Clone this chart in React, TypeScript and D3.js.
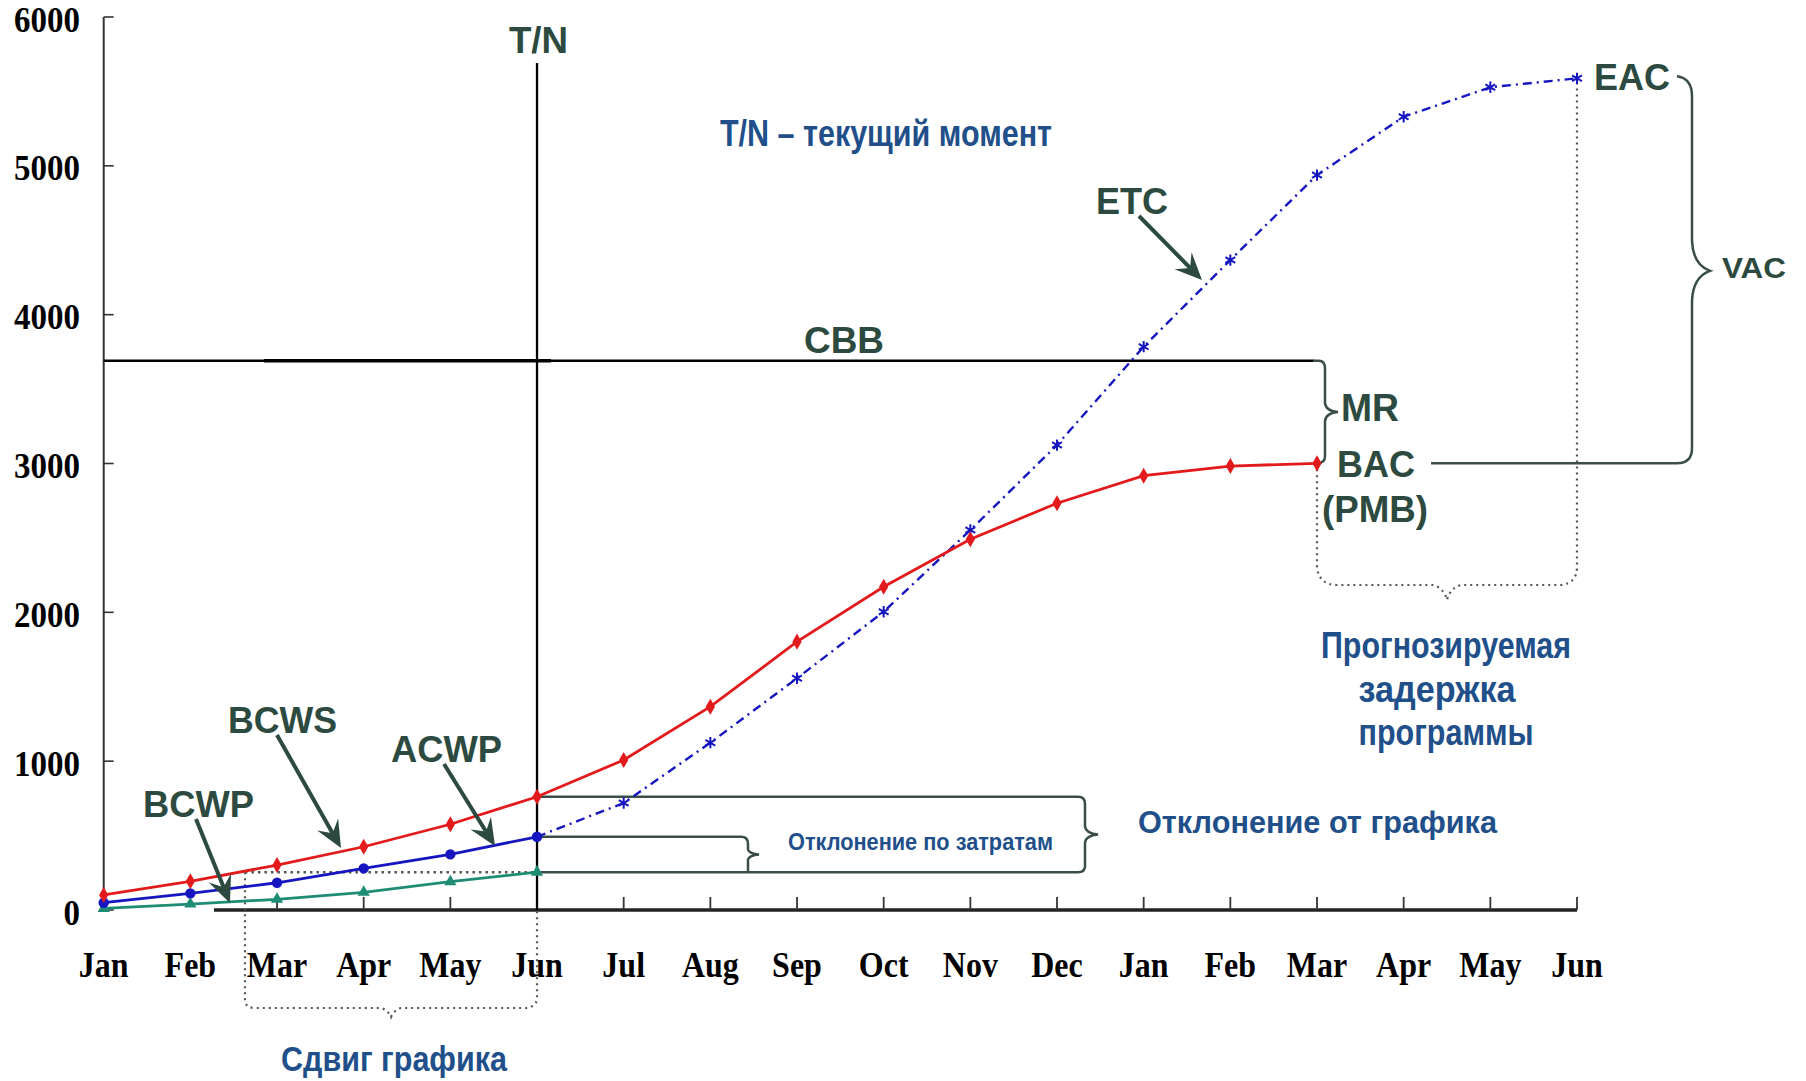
import React from 'react';
import * as d3 from 'd3';

// ---------- data ----------
const months = ['Jan','Feb','Mar','Apr','May','Jun','Jul','Aug','Sep','Oct','Nov','Dec','Jan','Feb','Mar','Apr','May','Jun'];
const yTicks = [0, 1000, 2000, 3000, 4000, 5000, 6000];
// BCWS – planned value (Jan .. Mar of next year)
const bcws = [101, 193, 302, 425, 576, 761, 1008, 1366, 1803, 2172, 2491, 2733, 2918, 2983, 3001];
// ACWP – actual cost (Jan .. Jun)
const acwp = [49, 112, 183, 280, 374, 492];
// ETC – forecast (Jun .. Jun of next year)
const etcStart = 5;
const etc = [492, 719, 1124, 1557, 2004, 2553, 3124, 3785, 4367, 4938, 5330, 5528, 5588];
// BCWP – earned value (Jan .. Jun)
const bcwp = [11, 40, 72, 119, 190, 254];
const CBB = 3690;
const statusIdx = 5;          // T/N – Jun
const bacIdx = 14;            // end of BCWS
const shiftStartMonth = 1.63; // where BCWS equals current BCWP

// ---------- styles ----------
const RED = '#e31a1c';
const BLUE = '#1616c0';
const GREEN = '#1e8c74';
const DG = '#2c4a40';
const BRACE = '#3a4d46';
const TXT_BLUE = '#214f8a';
const SANS = '"Liberation Sans", Arial, sans-serif';
const SERIF = '"Liberation Serif", "Times New Roman", serif';

const x = d3.scaleLinear().domain([0, 17]).range([103.7, 1577]);
const y = d3.scaleLinear().domain([0, 6000]).range([910, 17]);

type P = [number, number];
const line = d3.line<P>().x(d => x(d[0])).y(d => y(d[1]));

const Label = ({ px, py, text, size, fill, family = SANS, anchor = 'start', len, sy = 1 }: any) => (
  <text
    transform={`translate(${px},${py}) scale(1,${sy})`}
    fontFamily={family}
    fontWeight="bold"
    fontSize={size}
    fill={fill}
    textAnchor={anchor}
    textLength={len}
    lengthAdjust={len ? 'spacingAndGlyphs' : undefined}
  >
    {text}
  </text>
);

function Arrow({ x1, y1, x2, y2 }: any) {
  const dx = x2 - x1, dy = y2 - y1;
  const L = Math.hypot(dx, dy);
  const ux = dx / L, uy = dy / L;
  const nx = -uy, ny = ux;
  const HL = 27, HW = 12, NL = 17;
  const pts: P[] = [
    [x2, y2],
    [x2 - HL * ux + HW * nx, y2 - HL * uy + HW * ny],
    [x2 - NL * ux, y2 - NL * uy],
    [x2 - HL * ux - HW * nx, y2 - HL * uy - HW * ny],
  ];
  return (
    <g>
      <line x1={x1} y1={y1} x2={x2 - NL * ux} y2={y2 - NL * uy} stroke={DG} strokeWidth={4} />
      <polygon points={pts.map(p => p.join(',')).join(' ')} fill={DG} />
    </g>
  );
}

export default function App() {
  const bcwsPts: P[] = bcws.map((v, i) => [i, v]);
  const acwpPts: P[] = acwp.map((v, i) => [i, v]);
  const etcPts: P[] = etc.map((v, i) => [i + etcStart, v]);
  const bcwpPts: P[] = bcwp.map((v, i) => [i, v]);

  const diamond = d3.symbol().type(d3.symbolDiamond).size(75)()!;
  const tri = d3.symbol().type(d3.symbolTriangle).size(65)()!;
  const star = d3.symbol().type(d3.symbolAsterisk).size(90)()!;

  const xs = x(statusIdx);
  const yTop = y(bcws[statusIdx]);
  const yA = y(acwp[statusIdx]);
  const yBot = y(bcwp[statusIdx]);

  // MR brace
  const xb = x(bacIdx);
  const yc = y(CBB);
  const yb = y(bcws[bacIdx]);
  const ym = (yc + yb) / 2;
  const mrPath = `M${xb - 4},${yc} L${xb + 2},${yc} Q${xb + 8},${yc} ${xb + 8},${yc + 8} L${xb + 8},${ym - 9} Q${xb + 9},${ym - 1} ${xb + 21},${ym} Q${xb + 9},${ym + 1} ${xb + 8},${ym + 9} L${xb + 8},${yb - 7} Q${xb + 8},${yb} ${xb},${yb}`;

  // VAC brace
  const yEac = y(etc[etc.length - 1]);
  const vm = (yEac + yb) / 2;
  const vx = 1692;
  const vacPath = `M1677,${yEac - 2} Q${vx},${yEac} ${vx},${yEac + 18} L${vx},${vm - 30} Q${vx + 1},${vm - 6} ${vx + 18},${vm} Q${vx + 1},${vm + 6} ${vx},${vm + 30} L${vx},${yb - 15} Q${vx},${yb} ${vx - 15},${yb} L1431,${yb}`;

  // forecast delay dotted brace
  const xe = x(17);
  const fm = (xb + xe) / 2;
  const delayPath = `M${xb},${yb} L${xb},567 Q${xb + 2},585 ${xb + 20},585 L${fm - 14},585 Q${fm - 3},588 ${fm},600 Q${fm + 3},588 ${fm + 14},585 L${xe - 16},585 Q${xe},583 ${xe},567 L${xe},${yEac}`;

  // schedule shift dotted brace
  const xl = x(shiftStartMonth);
  const sm = (xl + xs) / 2;
  const shiftPath = `M${xl},${yBot} L${xl},1002 Q${xl + 2},1008 ${xl + 10},1008 L${sm - 10},1008 Q${sm - 3},1010 ${sm},1017 Q${sm + 3},1010 ${sm + 10},1008 L${xs - 10},1008 Q${xs},1006 ${xs},998 L${xs},910`;

  // schedule variance brace
  const sx = 1085;
  const smid = (yTop + yBot) / 2;
  const svPath = `M${xs},${yTop} L${sx - 7},${yTop} Q${sx},${yTop} ${sx},${yTop + 7} L${sx},${smid - 8} Q${sx + 1},${smid - 1} ${sx + 13},${smid} Q${sx + 1},${smid + 1} ${sx},${smid + 8} L${sx},${yBot - 6} Q${sx},${yBot} ${sx - 7},${yBot} L${xs},${yBot}`;
  // cost variance brace
  const cx = 748;
  const cmid = (yA + yBot) / 2;
  const cvPath = `M${xs},${yA} L${cx - 7},${yA} Q${cx},${yA} ${cx},${yA + 7} L${cx},${cmid - 5} Q${cx + 1},${cmid - 1} ${cx + 11},${cmid} Q${cx + 1},${cmid + 1} ${cx},${cmid + 5} L${cx},${yBot}`;

  return (
    <svg width={1806} height={1081} style={{ position: 'absolute', left: 0, top: 0, background: '#fff' }}>
      {/* y axis */}
      <line x1={x(0)} x2={x(0)} y1={y(6000)} y2={y(0)} stroke="#333" strokeWidth={2} />
      {yTicks.map(t => (
        <g key={t}>
          <line x1={x(0)} x2={x(0) + 10} y1={y(t)} y2={y(t)} stroke="#333" strokeWidth={1.6} />
          <Label px={80} py={y(t) + 14.5} text={String(t)} size={33} fill="#000" family={SERIF} anchor="end" sy={1.1} />
        </g>
      ))}
      {/* x axis */}
      <line x1={214} x2={x(17)} y1={y(0)} y2={y(0)} stroke="#222" strokeWidth={3.5} />
      {months.map((m, i) => (
        <g key={i}>
          {i >= 2 && <line x1={x(i)} x2={x(i)} y1={y(0) - 13} y2={y(0)} stroke="#333" strokeWidth={1.8} />}
          <Label px={x(i)} py={977} text={m} size={32} fill="#000" family={SERIF} anchor="middle" sy={1.12} />
        </g>
      ))}

      {/* CBB */}
      <line x1={x(0)} x2={xb - 3} y1={yc} y2={yc} stroke="#000" strokeWidth={2.5} />
      <line x1={264} x2={551} y1={yc} y2={yc} stroke="#000" strokeWidth={3.5} />
      {/* T/N */}
      <line x1={xs} x2={xs} y1={63} y2={y(0)} stroke="#000" strokeWidth={2.3} />

      {/* braces */}
      <path d={mrPath} fill="none" stroke={BRACE} strokeWidth={2.5} />
      <path d={vacPath} fill="none" stroke={BRACE} strokeWidth={2.5} />
      <path d={svPath} fill="none" stroke={BRACE} strokeWidth={2.5} />
      <path d={cvPath} fill="none" stroke={BRACE} strokeWidth={2.5} />
      <path d={delayPath} fill="none" stroke="#555" strokeWidth={2.2} strokeDasharray="2 4" />
      <path d={shiftPath} fill="none" stroke="#555" strokeWidth={2.2} strokeDasharray="2 4" />
      <line x1={xl} x2={xs} y1={yBot} y2={yBot} stroke="#555" strokeWidth={2.6} strokeDasharray="2.5 4" />

      {/* series */}
      <path d={line(etcPts)!} fill="none" stroke={BLUE} strokeWidth={2.4} strokeDasharray="9 5 2 5" />
      <path d={line(bcwpPts)!} fill="none" stroke={GREEN} strokeWidth={2.8} />
      <path d={line(acwpPts)!} fill="none" stroke={BLUE} strokeWidth={2.8} />
      <path d={line(bcwsPts)!} fill="none" stroke={RED} strokeWidth={2.8} />
      {etcPts.slice(1).map((p, i) => (
        <path key={'e' + i} d={star} transform={`translate(${x(p[0])},${y(p[1])})`} fill="none" stroke={BLUE} strokeWidth={2} />
      ))}
      {bcwpPts.map((p, i) => (
        <path key={'g' + i} d={tri} transform={`translate(${x(p[0])},${y(p[1])})`} fill={GREEN} />
      ))}
      {acwpPts.map((p, i) => (
        <circle key={'a' + i} cx={x(p[0])} cy={y(p[1])} r={5.2} fill={BLUE} />
      ))}
      {bcwsPts.map((p, i) => (
        <path key={'r' + i} d={diamond} transform={`translate(${x(p[0])},${y(p[1])})`} fill={RED} />
      ))}

      {/* arrows */}
      <Arrow x1={277} y1={735} x2={341} y2={848} />
      <Arrow x1={444} y1={764} x2={495} y2={846} />
      <Arrow x1={196} y1={819} x2={230} y2={903} />
      <Arrow x1={1139} y1={216} x2={1202} y2={280} />

      {/* dark green labels */}
      <Label px={509} py={53} text="T/N" size={37} fill={DG} len={59} />
      <Label px={804} py={353} text="CBB" size={37} fill={DG} len={80} />
      <Label px={1096} py={214} text="ETC" size={37} fill={DG} len={72} />
      <Label px={1594} py={90} text="EAC" size={37} fill={DG} len={76} />
      <Label px={1722} py={278} text="VAC" size={29} fill={DG} len={64} />
      <Label px={1341} py={421} text="MR" size={38} fill={DG} len={58} />
      <Label px={1337} py={477} text="BAC" size={37} fill={DG} len={78} />
      <Label px={1322} py={522} text="(PMB)" size={37} fill={DG} len={106} />
      <Label px={228} py={733} text="BCWS" size={37} fill={DG} len={109} />
      <Label px={391} py={762} text="ACWP" size={37} fill={DG} len={111} />
      <Label px={143} py={817} text="BCWP" size={37} fill={DG} len={111} />

      {/* blue annotations */}
      <Label px={720} py={146} text="T/N – текущий момент" size={36} fill={TXT_BLUE} len={332} />
      <Label px={1138} py={833} text="Отклонение от графика" size={32} fill={TXT_BLUE} len={359} />
      <Label px={788} py={850} text="Отклонение по затратам" size={24} fill={TXT_BLUE} len={265} />
      <Label px={1446} py={658} text="Прогнозируемая" size={36} fill={TXT_BLUE} anchor="middle" len={250} />
      <Label px={1437} py={702} text="задержка" size={36} fill={TXT_BLUE} anchor="middle" len={157} />
      <Label px={1446} py={745} text="программы" size={36} fill={TXT_BLUE} anchor="middle" len={175} />
      <Label px={281} py={1071} text="Сдвиг графика" size={35} fill={TXT_BLUE} len={226} />
    </svg>
  );
}
